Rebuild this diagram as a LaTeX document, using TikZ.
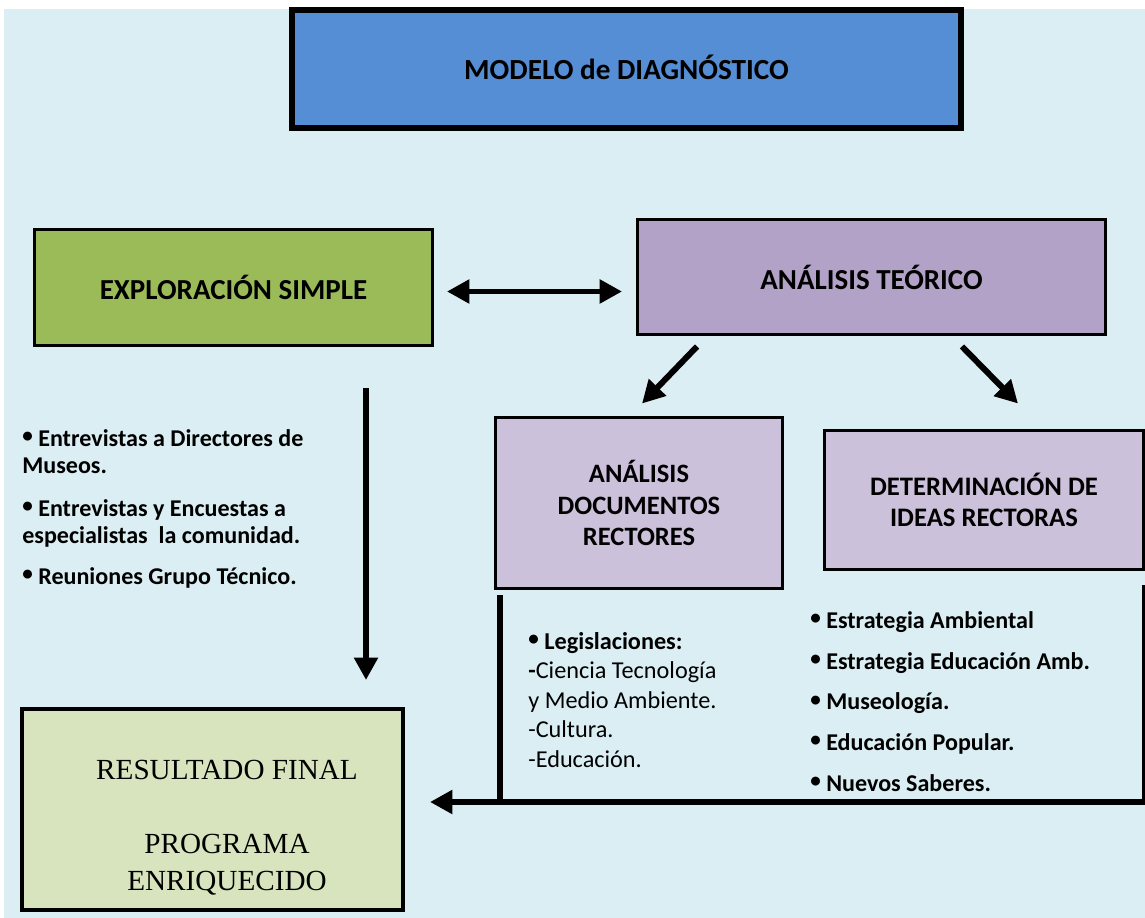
\documentclass[tikz,border=0pt]{standalone}
\usepackage{fontspec}
\setmainfont{Carlito}
\newfontfamily\romana{Liberation Serif}
\usetikzlibrary{positioning,arrows.meta}

\definecolor{fondo}{HTML}{DAEEF3}
\definecolor{azul}{HTML}{558ED5}
\definecolor{verde}{HTML}{9BBB59}
\definecolor{lila}{HTML}{B3A2C7}
\definecolor{lilaclaro}{HTML}{CCC1DA}
\definecolor{verdeclaro}{HTML}{D7E4BD}

\newcommand{\punto}{{\fontsize{12}{12}\selectfont\raisebox{0.35ex}{•}}\ }

\begin{document}
\begin{tikzpicture}[x=0.02cm,y=-0.02cm]
        \tikzstyle{caja}=[draw, line width=1.7pt, align=center, inner sep=0pt,
                          font=\bfseries\fontsize{16.5}{18}\selectfont]
        \tikzstyle{flecha}=[line width=3.4pt, -{Triangle[length=0.45cm,width=0.46cm]}]
        \tikzstyle{linea}=[line width=3.4pt]
        \tikzstyle{lista}=[anchor=north west, inner sep=0pt, align=left]

        \useasboundingbox (0,0) rectangle (1145,918);
        \fill[fondo] (4,9) rectangle (1145,918);

        % cajas
        \node (modelo) [caja, fill=azul, line width=3.4pt, minimum width=13.38cm, minimum height=2.36cm]
            at (626.5,69) {};
        \node (modelotxt) at (626.5,67) [font=\bfseries\fontsize{16.6}{18}\selectfont] {MODELO de DIAGNÓSTICO};
        \node (explo) [caja, fill=verde, minimum width=7.96cm, minimum height=2.32cm]
            at (233.5,287.5) {EXPLORACIÓN SIMPLE};
        \node (teorico) [caja, fill=lila, minimum width=9.36cm, minimum height=2.3cm]
            at (871.5,277) {ANÁLISIS TEÓRICO};
        \node (docs) [caja, fill=lilaclaro, minimum width=5.74cm, minimum height=3.42cm,
                      font=\bfseries\fontsize{15.1}{18}\selectfont]
            at (639,503) {ANÁLISIS\\DOCUMENTOS\\RECTORES};
        \node (ideas) [caja, fill=lilaclaro, minimum width=6.38cm, minimum height=2.78cm,
                       font=\bfseries\fontsize{15.2}{18}\selectfont]
            at (984,500) {DETERMINACIÓN DE\\IDEAS RECTORAS};
        \node (result) [caja, fill=verdeclaro, line width=2.3pt, minimum width=7.62cm, minimum height=4.02cm]
            at (212.5,809.5) {};
        \node (resulttxt) at (227,828) [align=center, font=\romana\fontsize{16.6}{21}\selectfont]
            {RESULTADO FINAL\\[21pt]PROGRAMA\\ENRIQUECIDO};

        % listas
        \node (lista1) [lista, font=\bfseries\fontsize{13.7}{15.4}\selectfont] at (22,429) {%
            \punto Entrevistas a Directores de\\Museos.\\[9pt]
            \punto Entrevistas y Encuestas a\\especialistas\ \ la comunidad.\\[8pt]
            \punto Reuniones Grupo Técnico.};
        \node (lista2) [lista, font=\fontsize{13.8}{16.8}\selectfont] at (528,632) {%
            \textbf{\punto Legislaciones:}\\\textbf{-}Ciencia Tecnología\\y Medio Ambiente.\\-Cultura.\\-Educación.};
        \node (lista3) [lista, font=\bfseries\fontsize{13.7}{23.2}\selectfont] at (810,611) {%
            \punto Estrategia Ambiental\\\punto Estrategia Educación Amb.\\\punto Museología.\\
            \punto Educación Popular.\\\punto Nuevos Saberes.};

        % conectores
        \coordinate (ejeV) at (366,0);
        \coordinate (retorno) at (1143,802);
        \draw[flecha, {Triangle[length=0.45cm,width=0.46cm]}-{Triangle[length=0.45cm,width=0.46cm]},
              shorten <=0.26cm, shorten >=0.28cm]
            ([yshift=-0.08cm]explo.east) -- ([yshift=-0.08cm]explo.east -| teorico.west);
        \draw[flecha, shorten <=0.82cm, shorten >=0.54cm] (explo.south -| ejeV) -- (result.north -| ejeV);
        \draw[flecha] ([shift={(-3.49cm,-0.21cm)}]teorico.south) -- ([shift={(0.06cm,0.25cm)}]docs.north);
        \draw[flecha] ([shift={(1.81cm,-0.21cm)}]teorico.south) -- ([shift={(0.68cm,0.51cm)}]ideas.north);
        \draw[flecha] ([yshift=-0.28cm]ideas.south east) |- ([xshift=0.5cm]result.east |- retorno);
        \draw[linea] ([xshift=0.12cm,yshift=-0.1cm]docs.south west) -- ([xshift=0.12cm]docs.south west |- retorno);

    \end{tikzpicture}
\end{document}
